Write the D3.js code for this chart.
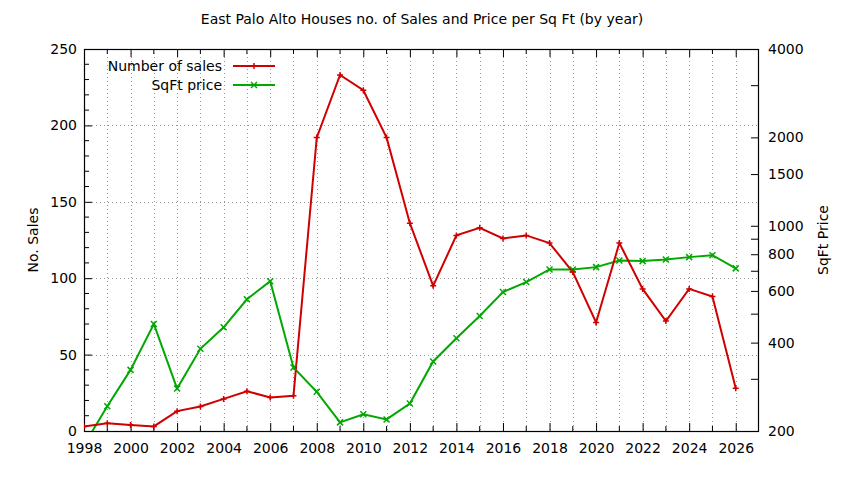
<!DOCTYPE html>
<html>
<head>
<meta charset="utf-8">
<script src="https://cdn.jsdelivr.net/npm/d3@7"></script>
<style>
  body { margin: 0; background: #fff; }
  svg text { font-family: "DejaVu Sans", sans-serif; fill: #000; }
</style>
</head>
<body>
<svg id="chart" width="844" height="480"></svg>
<script>
// values
const years = [1998, 1999, 2000, 2001, 2002, 2003, 2004, 2005, 2006, 2007,
  2008, 2009, 2010, 2011, 2012, 2013, 2014, 2015, 2016, 2017,
  2018, 2019, 2020, 2021, 2022, 2023, 2024, 2025, 2026];
const sales = [3, 5, 4, 3, 13, 16, 21, 26, 22, 23,
  192, 233, 223, 192, 136, 95, 128, 133, 126, 128,
  123, 104, 71, 123, 93, 72, 93, 88, 28];
const sqftPrice = [179, 243, 323, 463, 279, 381, 451, 562, 647, 329,
  272, 214, 228, 219, 248, 345, 414, 493, 595, 643,
  710, 710, 723, 762, 758, 768, 782, 794, 716];
const salesTicks = [0, 50, 100, 150, 200, 250];
const priceTicks = [200, 400, 600, 800, 1000, 1500, 2000, 4000];
const priceMinor = [300, 500, 700, 900, 3000];
const yearTicks = d3.range(1998, 2027, 2);

const W = 844, H = 480;
const m = {left: 84, right: 85, top: 49, bottom: 49};
const svg = d3.select("#chart");

const x = d3.scaleLinear().domain([1998, 2027]).range([m.left, W - m.right]);
const y = d3.scaleLinear().domain([0, 250]).range([H - m.bottom, m.top]);
const y2 = d3.scaleLog().domain([200, 4000]).range([H - m.bottom, m.top]);

const red = "#d00000", green = "#00a800";

// grid
const grid = svg.append("g").attr("stroke", "#999").attr("stroke-width", 1)
  .attr("stroke-dasharray", "1,3");
grid.selectAll(".gx").data(d3.range(1999, 2027)).join("line")
  .attr("x1", d => Math.round(x(d)) + 0.5).attr("x2", d => Math.round(x(d)) + 0.5)
  .attr("y1", m.top).attr("y2", H - m.bottom);
grid.selectAll(".gy").data([50, 100, 150, 200]).join("line")
  .attr("y1", d => Math.round(y(d)) + 0.5).attr("y2", d => Math.round(y(d)) + 0.5)
  .attr("x1", m.left).attr("x2", W - m.right);

// axes
const fs = 14;
const xAxis = d3.axisBottom(x).tickValues(yearTicks).tickFormat(d3.format("d"))
  .tickSizeInner(-8).tickSizeOuter(0).tickPadding(12);
const gx = svg.append("g").attr("transform", `translate(0,${H - m.bottom})`).call(xAxis);
gx.append("g").selectAll("line").data(d3.range(1999, 2027, 2)).join("line")
  .attr("x1", d => x(d)).attr("x2", d => x(d)).attr("y1", 0).attr("y2", -5).attr("stroke", "#000");

const xTop = d3.axisTop(x).tickValues(yearTicks).tickFormat("")
  .tickSizeInner(-8).tickSizeOuter(0);
const gxt = svg.append("g").attr("transform", `translate(0,${m.top})`).call(xTop);
gxt.append("g").selectAll("line").data(d3.range(1999, 2027, 2)).join("line")
  .attr("x1", d => x(d)).attr("x2", d => x(d)).attr("y1", 0).attr("y2", 5).attr("stroke", "#000");

const yAxis = d3.axisLeft(y).tickValues(salesTicks).tickSizeInner(-8).tickSizeOuter(0).tickPadding(7);
const gy = svg.append("g").attr("transform", `translate(${m.left},0)`).call(yAxis);
gy.append("g").selectAll("line").data(d3.range(10, 250, 10).filter(d => d % 50)).join("line")
  .attr("y1", d => y(d)).attr("y2", d => y(d)).attr("x1", 0).attr("x2", 5).attr("stroke", "#000");

const y2Axis = d3.axisRight(y2).tickValues(priceTicks).tickFormat(d3.format("d"))
  .tickSizeInner(-8).tickSizeOuter(0).tickPadding(9);
const gy2 = svg.append("g").attr("transform", `translate(${W - m.right},0)`).call(y2Axis);
gy2.append("g").selectAll("line").data(priceMinor).join("line")
  .attr("y1", d => y2(d)).attr("y2", d => y2(d)).attr("x1", 0).attr("x2", -8).attr("stroke", "#000");

svg.selectAll(".domain").remove();
svg.selectAll(".tick text").attr("font-size", fs).attr("font-family", "DejaVu Sans");

// border
svg.append("rect").attr("x", m.left + 0.5).attr("y", m.top + 0.5)
  .attr("width", W - m.left - m.right - 1).attr("height", H - m.top - m.bottom)
  .attr("fill", "none").attr("stroke", "#000").attr("stroke-width", 1.2);

// clip
svg.append("clipPath").attr("id", "clip").append("rect")
  .attr("x", m.left).attr("y", m.top).attr("width", W - m.left - m.right).attr("height", H - m.top - m.bottom);

const plot = svg.append("g").attr("clip-path", "url(#clip)");

const lineS = d3.line().x((d, i) => x(years[i])).y(d => y(d));
const lineP = d3.line().x((d, i) => x(years[i])).y(d => y2(d));

plot.append("path").datum(sqftPrice).attr("d", lineP).attr("fill", "none")
  .attr("stroke", green).attr("stroke-width", 2);
plot.append("path").datum(sales).attr("d", lineS).attr("fill", "none")
  .attr("stroke", red).attr("stroke-width", 2);

function plus(g, cx, cy, c) {
  g.append("path").attr("d", `M${cx - 3},${cy}H${cx + 3}M${cx},${cy - 3}V${cy + 3}`)
    .attr("stroke", c).attr("stroke-width", 1.5);
}
function cross(g, cx, cy, c) {
  g.append("path").attr("d", `M${cx - 3},${cy - 3}L${cx + 3},${cy + 3}M${cx - 3},${cy + 3}L${cx + 3},${cy - 3}`)
    .attr("stroke", c).attr("stroke-width", 1.5);
}
sqftPrice.forEach((v, i) => cross(plot, x(years[i]), y2(v), green));
sales.forEach((v, i) => plus(plot, x(years[i]), y(v), red));

// legend
const leg = svg.append("g");
[["Number of sales", red, plus], ["SqFt price", green, cross]].forEach(([label, c, mk], i) => {
  const ly = 66 + i * 19;
  leg.append("text").attr("x", 222).attr("y", ly + 5).attr("text-anchor", "end")
    .attr("font-size", fs).text(label);
  leg.append("line").attr("x1", 233).attr("x2", 275).attr("y1", ly).attr("y2", ly)
    .attr("stroke", c).attr("stroke-width", 2);
  mk(leg, 254, ly, c);
});

// title and axis labels
svg.append("text").attr("x", 422).attr("y", 24).attr("text-anchor", "middle")
  .attr("font-size", 14).text("East Palo Alto Houses no. of Sales and Price per Sq Ft (by year)");
svg.append("text").attr("transform", "translate(38,240) rotate(-90)").attr("text-anchor", "middle")
  .attr("font-size", fs).text("No. Sales");
svg.append("text").attr("transform", "translate(828,240) rotate(-90)").attr("text-anchor", "middle")
  .attr("font-size", fs).text("SqFt Price");
</script>
</body>
</html>
